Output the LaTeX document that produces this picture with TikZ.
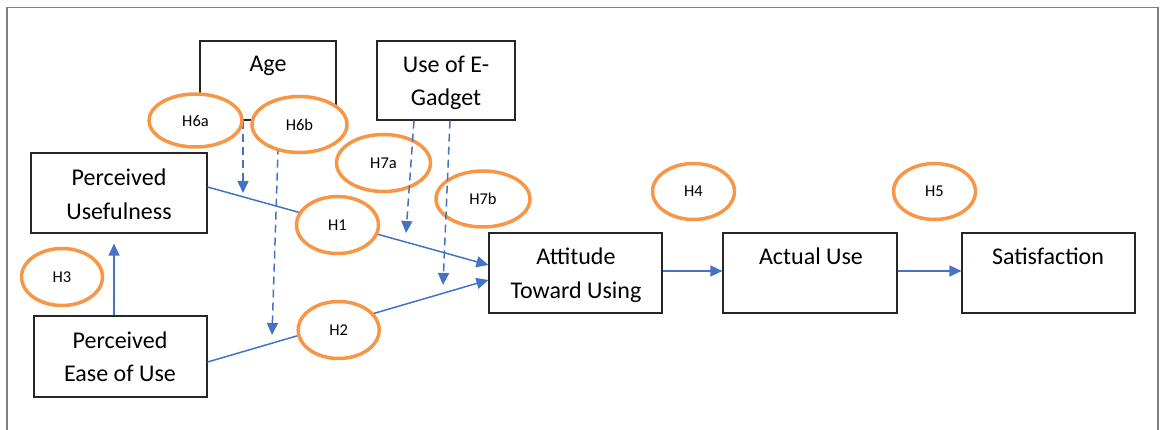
\documentclass[tikz,border=0pt]{standalone}
\usepackage{fontspec}
\setmainfont{Carlito}
\usetikzlibrary{arrows.meta,shapes.geometric}
\definecolor{hypo}{RGB}{247,150,70}
\definecolor{link}{RGB}{68,114,196}
\definecolor{framegray}{RGB}{128,128,128}
\tikzset{
  box/.style={draw=black!85, line width=1.2pt, fill=white, inner sep=0pt},
  boxtext/.style={font=\fontsize{24}{29}\selectfont, anchor=base, inner sep=0pt},
  hyp/.style={ellipse, draw=hypo, line width=3.5pt, fill=white, inner sep=0pt,
    font=\fontsize{16.5}{20}\selectfont},
  link/.style={draw=link, line width=1.5pt, -{Triangle[length=12pt,width=11pt]}},
  moderator/.style={link, dash pattern=on 8pt off 5pt},
}
\begin{document}
\begin{tikzpicture}[x=1pt,y=-1pt]
\useasboundingbox (0,0) rectangle (1162,430);
% outer frame (open at the bottom)
\draw[framegray, line width=1.5pt] (7,440) -- (7,7.5) -- (1158,7.5) -- (1158,440);

% construct boxes
\node[box, minimum width=136pt, minimum height=79pt] (age)  at (268,80.5)   {};
\node[box, minimum width=138pt, minimum height=79pt] (ueg)  at (446,80.5)   {};
\node[box, minimum width=176pt, minimum height=80pt] (pu)   at (119,193)    {};
\node[box, minimum width=173pt, minimum height=81pt] (peou) at (120.5,356.5) {};
\node[box, minimum width=173pt, minimum height=80pt] (atu)  at (575.5,273)  {};
\node[box, minimum width=174pt, minimum height=80pt] (au)   at (810,273)    {};
\node[box, minimum width=173pt, minimum height=80pt] (sat)  at (1048.5,273) {};

% box captions
\node[boxtext] (age-t)   at (268,72)    {Age};
\node[boxtext] (ueg-t1)  at (446,72.5)  {Use of E-};
\node[boxtext] (ueg-t2)  at (446,106)   {Gadget};
\node[boxtext] (pu-t1)   at (119,185.7) {Perceived};
\node[boxtext] (pu-t2)   at (119,220)   {Usefulness};
\node[boxtext] (peou-t1) at (120,348.3) {Perceived};
\node[boxtext] (peou-t2) at (120,381.7) {Ease of Use};
\node[boxtext] (atu-t1)  at (576,265)   {Attitude};
\node[boxtext] (atu-t2)  at (576,299)   {Toward Using};
\node[boxtext] (au-t)    at (811,265)   {Actual Use};
\node[boxtext] (sat-t)   at (1048,265)  {Satisfaction};

% main paths into the attitude box
\draw[link] ([yshift=6pt]pu.east) -- ([yshift=8pt]atu.west);
\draw[link] ([yshift=-5.5pt]peou.east) -- ([yshift=-7pt]atu.west);

% moderating effects of age
\coordinate (m1) at (243,193);
\coordinate (m2) at (272,335);
\draw[moderator] ([xshift=-25pt]age.south) -- (m1);
\draw[moderator] ([xshift=11pt]age.south) -- (m2);

% hypothesis labels
\node[hyp, minimum width=93pt, minimum height=53pt] (h6a) at (195.5,120.5) {H6a};
\node[hyp, minimum width=95pt, minimum height=56pt] (h6b) at (299.5,124.5) {H6b};
\node[hyp, minimum width=94pt, minimum height=57pt] (h7a) at (383.5,163)   {H7a};
\node[hyp, minimum width=94pt, minimum height=56pt] (h7b) at (483,199)     {H7b};
\node[hyp, minimum width=82pt, minimum height=57pt] (h1)  at (337.5,225)   {H1};
\node[hyp, minimum width=81pt, minimum height=57pt] (h2)  at (338.7,330)   {H2};
\node[hyp, minimum width=81pt, minimum height=57pt] (h3)  at (62,277)      {H3};
\node[hyp, minimum width=82pt, minimum height=56pt] (h4)  at (693.5,191.5) {H4};
\node[hyp, minimum width=82pt, minimum height=56pt] (h5)  at (934.5,191.5) {H5};

% moderating effects of e-gadget use
\coordinate (m3) at (406,233);
\coordinate (m4) at (443,285);
\draw[moderator] ([xshift=-32pt]ueg.south) -- (m3);
\draw[moderator] ([xshift=4pt]ueg.south) -- (m4);

% remaining paths
\draw[link] ([xshift=-6.5pt]peou.north) -- ([xshift=-5pt,yshift=-10pt]pu.south);
\draw[link] ([yshift=2pt]atu.east) -- ([yshift=2pt]au.west);
\draw[link] ([yshift=2pt]au.east) -- ([yshift=2pt]sat.west);
\end{tikzpicture}
\end{document}
